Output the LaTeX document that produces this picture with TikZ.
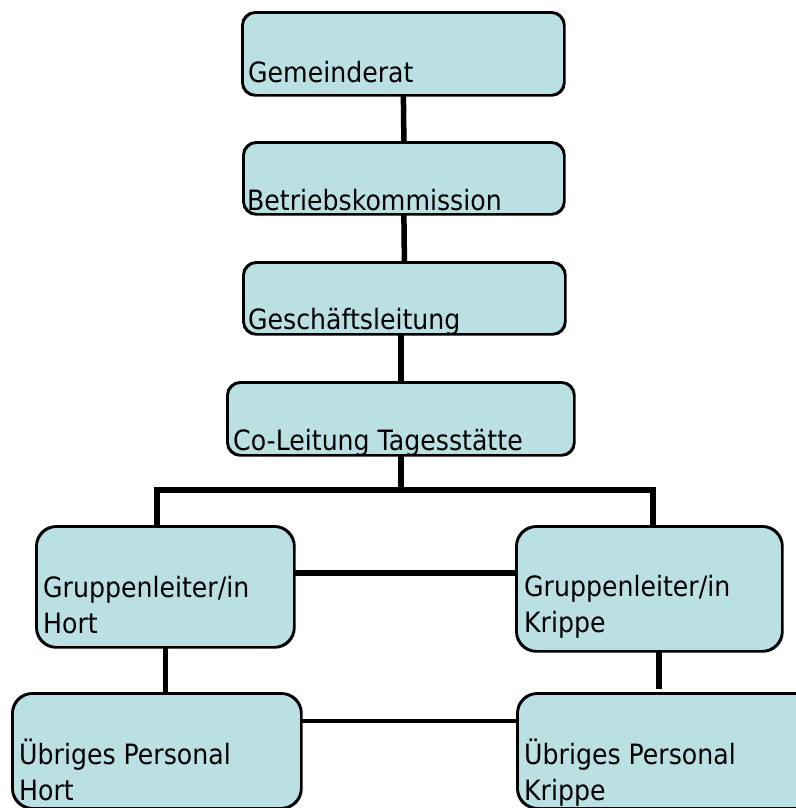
\documentclass[tikz,border=0pt]{standalone}
\usepackage{fontspec}
\newfontfamily\boxfont[FakeStretch=0.9]{DejaVu Sans}
\definecolor{boxfill}{RGB}{187,224,227}
\tikzset{
  orgbox/.style={draw=black, line width=1.8pt, fill=boxfill, rounded corners=#1, anchor=north west, inner sep=0pt},
  orgbox/.default=13pt,
  boxtext/.style={anchor=base west, inner sep=0pt, font=\boxfont\fontsize{28}{36}\selectfont, align=left},
  thickline/.style={line width=5.5pt},
  thinline/.style={line width=3.5pt}
}
\begin{document}
\begin{tikzpicture}[x=1pt,y=-1pt]
\useasboundingbox (0,0) rectangle (795,808);
\node[orgbox=13pt, minimum width=321pt, minimum height=82pt] (gem) at (242,12) {};
\node[orgbox=13pt, minimum width=320pt, minimum height=71pt] (bet) at (243,142) {};
\node[orgbox=13pt, minimum width=321pt, minimum height=71pt] (ges) at (243,262) {};
\node[orgbox=13pt, minimum width=346pt, minimum height=72pt] (col) at (227,382) {};
\node[orgbox=20pt, minimum width=257pt, minimum height=120pt] (gh) at (36,526) {};
\node[orgbox=20pt, minimum width=265pt, minimum height=124pt] (gk) at (516,526) {};
\node[orgbox=20pt, minimum width=288pt, minimum height=114pt] (uh) at (12,693) {};
\node[orgbox=20pt, minimum width=298pt, minimum height=114pt] (uk) at (517,693) {};

\coordinate (jl) at (157,490);
\coordinate (jr) at (653,490);
\coordinate (hm) at (0,573);
\coordinate (lm) at (0,721);
\coordinate (kx) at (659,689);

\draw[thickline] (gem.south) -- (bet.north);
\draw[thickline] (bet.south) -- (ges.north);
\draw[thickline] (ges.south -| col.north) -- (col.north);
\draw[thickline] (col.south) -- (col.south |- jl);
\draw[thickline] (jl |- gh.north) -- (jl) -- (jr) -- (jr |- gk.north);
\draw[thickline] (gh.east |- hm) -- (gk.west |- hm);
\draw[thickline] (gh.south) -- (gh.south |- uh.north);
\draw[thickline] (kx |- gk.south) -- (kx);
\draw[thinline] (uh.east |- lm) -- (uk.west |- lm);

\foreach \n/\r/\tx/\ty/\t in {
  gem/13pt/248/82/{Gemeinderat},
  bet/13pt/247/210/{Betriebskommission},
  ges/13pt/248/329/{Geschäftsleitung},
  col/13pt/233/450/{Co-Leitung Tagesstätte},
  gh/20pt/43/633/{Gruppenleiter/in\\Hort},
  gk/20pt/524/632/{Gruppenleiter/in\\Krippe},
  uh/20pt/19/800/{Übriges Personal\\Hort},
  uk/20pt/524/800/{Übriges Personal\\Krippe}} {
  \begin{scope}
    \clip[rounded corners=\r] (\n.south west) rectangle (\n.north east);
    \node[boxtext] (t\n) at (\tx,\ty) {\t};
  \end{scope}
  \draw[line width=1.8pt, rounded corners=\r] (\n.south west) rectangle (\n.north east);
}
\end{tikzpicture}
\end{document}
